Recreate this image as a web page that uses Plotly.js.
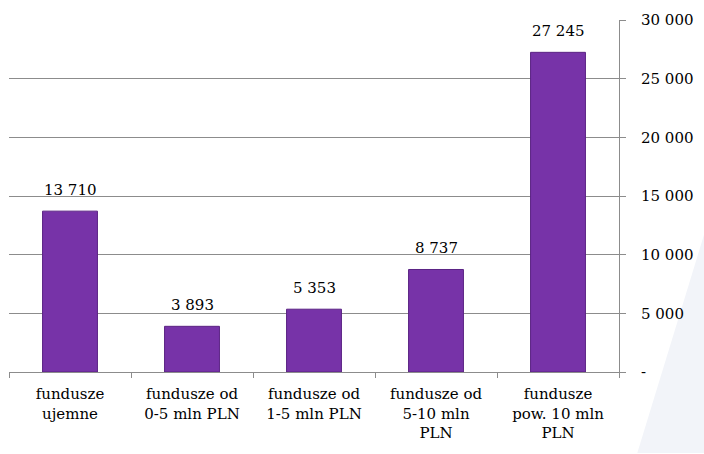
<!DOCTYPE html>
<html><head><meta charset="utf-8">
<script src="https://cdn.plot.ly/plotly-3.0.1.min.js"></script>
<style>body{margin:0;background:#fff}#c{width:704px;height:454px}</style>
</head><body><div id="c"></div>
<script>
const categories = ["fundusze<br>ujemne","fundusze od<br>0-5 mln PLN","fundusze od<br>1-5 mln PLN","fundusze od<br>5-10 mln<br>PLN","fundusze<br>pow. 10 mln<br>PLN"];
const values = [13710, 3893, 5353, 8737, 27245];
const valueLabels = ["13 710","3 893","5 353","8 737","27 245"];
const yTickVals = [0,5000,10000,15000,20000,25000,30000];
const yTickText = ["-","5 000","10 000","15 000","20 000","25 000","30 000"];

const font = {family:"DejaVu Serif", size:15, color:"#000"};
const trace = {
  type:"bar", x:categories, y:values, width:0.45,
  marker:{color:"#7733a8", line:{color:"#5b2384", width:1}},
  hoverinfo:"none"
};
const annotations = values.map((v,i)=>({
  x:categories[i], y:v, text:valueLabels[i], showarrow:false,
  yanchor:"bottom", yshift:10, font:font
}));
const layout = {
  width:704, height:454, margin:{l:9,r:85,t:20,b:82},
  paper_bgcolor:"#fff", plot_bgcolor:"rgba(0,0,0,0)",
  showlegend:false, font:font, annotations:annotations,
  shapes:[{type:"path", xref:"paper", yref:"paper", layer:"below",
    path:"M 1.03 -0.23 L 1.15 -0.23 L 1.15 0.45 Z", fillcolor:"#f2f4f9", line:{width:0}}],
  xaxis:{type:"category", showgrid:false, showline:true, linecolor:"#8c8c8c", linewidth:1,
    ticks:"outside", tickson:"boundaries", ticklen:5, tickcolor:"#8c8c8c",
    tickfont:font, ticklabelstandoff:8, fixedrange:true},
  yaxis:{side:"right", range:[0,30000], tickvals:yTickVals, ticktext:yTickText,
    showgrid:true, gridcolor:"#8c8c8c", gridwidth:1, zeroline:false,
    showline:true, linecolor:"#8c8c8c", linewidth:1, ticks:"outside", ticklen:6,
    tickcolor:"#8c8c8c", tickfont:font, ticklabelstandoff:12, fixedrange:true}
};
Plotly.newPlot("c",[trace],layout,{staticPlot:true});
</script></body></html>
